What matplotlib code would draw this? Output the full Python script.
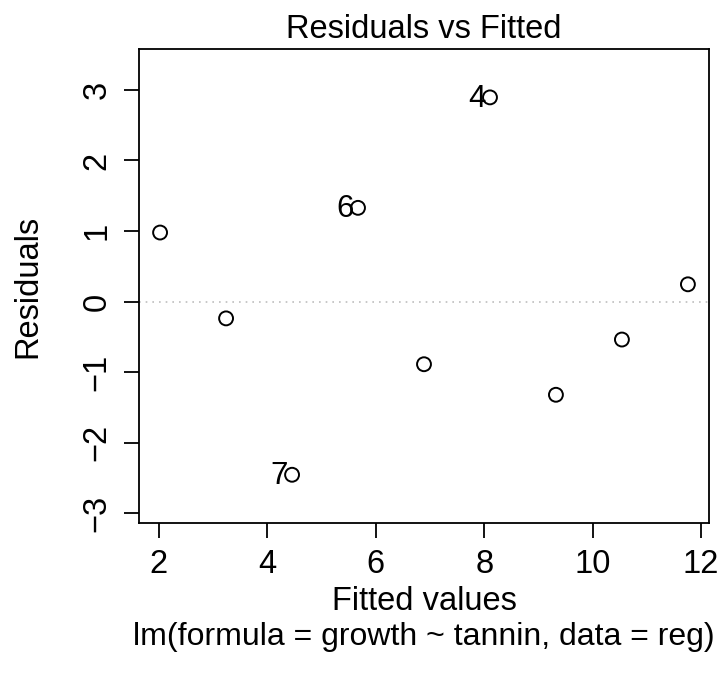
import matplotlib
matplotlib.use("Agg")
import matplotlib.pyplot as plt
import numpy as np

plt.rcParams['font.family'] = ['Liberation Sans', 'DejaVu Sans']

# fitted values and residuals of lm(growth ~ tannin)
fitted = [11.756, 10.539, 9.322, 8.106, 6.889, 5.672, 4.456, 3.239, 2.022]
resid = [0.244, -0.539, -1.322, 2.894, -0.889, 1.328, -2.456, -0.239, 0.978]
obs_ids = ['1', '2', '3', '4', '5', '6', '7', '8', '9']
labelled = ['4', '6', '7']

xticks = [2, 4, 6, 8, 10, 12]
yticks = [-3, -2, -1, 0, 1, 2, 3]

fs = 23.5
cx = 424 / 722  # centre of the plot box

fig = plt.figure(figsize=(7.22, 6.88), dpi=100)
ax = fig.add_axes([0.1925, 0.2398, 0.7895, 0.689])

ax.axhline(0, color='#bebebe', linestyle=(0, (1, 3)), linewidth=1.2, zorder=1)
ax.scatter(fitted, resid, s=100, facecolors='none', edgecolors='black', linewidths=1.4, zorder=3)

for x, y, lab in zip(fitted, resid, obs_ids):
    if lab in labelled:
        ax.annotate(lab, (x, y), xytext=(-3, -1), textcoords='offset points',
                    ha='right', va='center', fontsize=fs - 1)

ax.set_xlim(1.633, 12.145)
ax.set_ylim(-3.14, 3.58)
ax.set_xticks(xticks)
ax.set_yticks(yticks)
ax.set_yticklabels([str(t).replace('-', '\u2212') for t in yticks], rotation=90, va='center')
ax.tick_params(length=11, width=1.3, labelsize=fs, pad=8)
for s in ax.spines.values():
    s.set_linewidth(1.3)

fig.text(cx, 1 - 30 / 688, 'Residuals vs Fitted', ha='center', va='center', fontsize=fs)
fig.text(28 / 722, 0.5843, 'Residuals', rotation=90, ha='center', va='center', fontsize=fs)
fig.text(cx, 1 - 602 / 688, 'Fitted values', ha='center', va='center', fontsize=fs)
fig.text(cx, 1 - 637 / 688, 'lm(formula = growth ~ tannin, data = reg)',
         ha='center', va='center', fontsize=23)

fig.savefig('out.png', dpi=100)
